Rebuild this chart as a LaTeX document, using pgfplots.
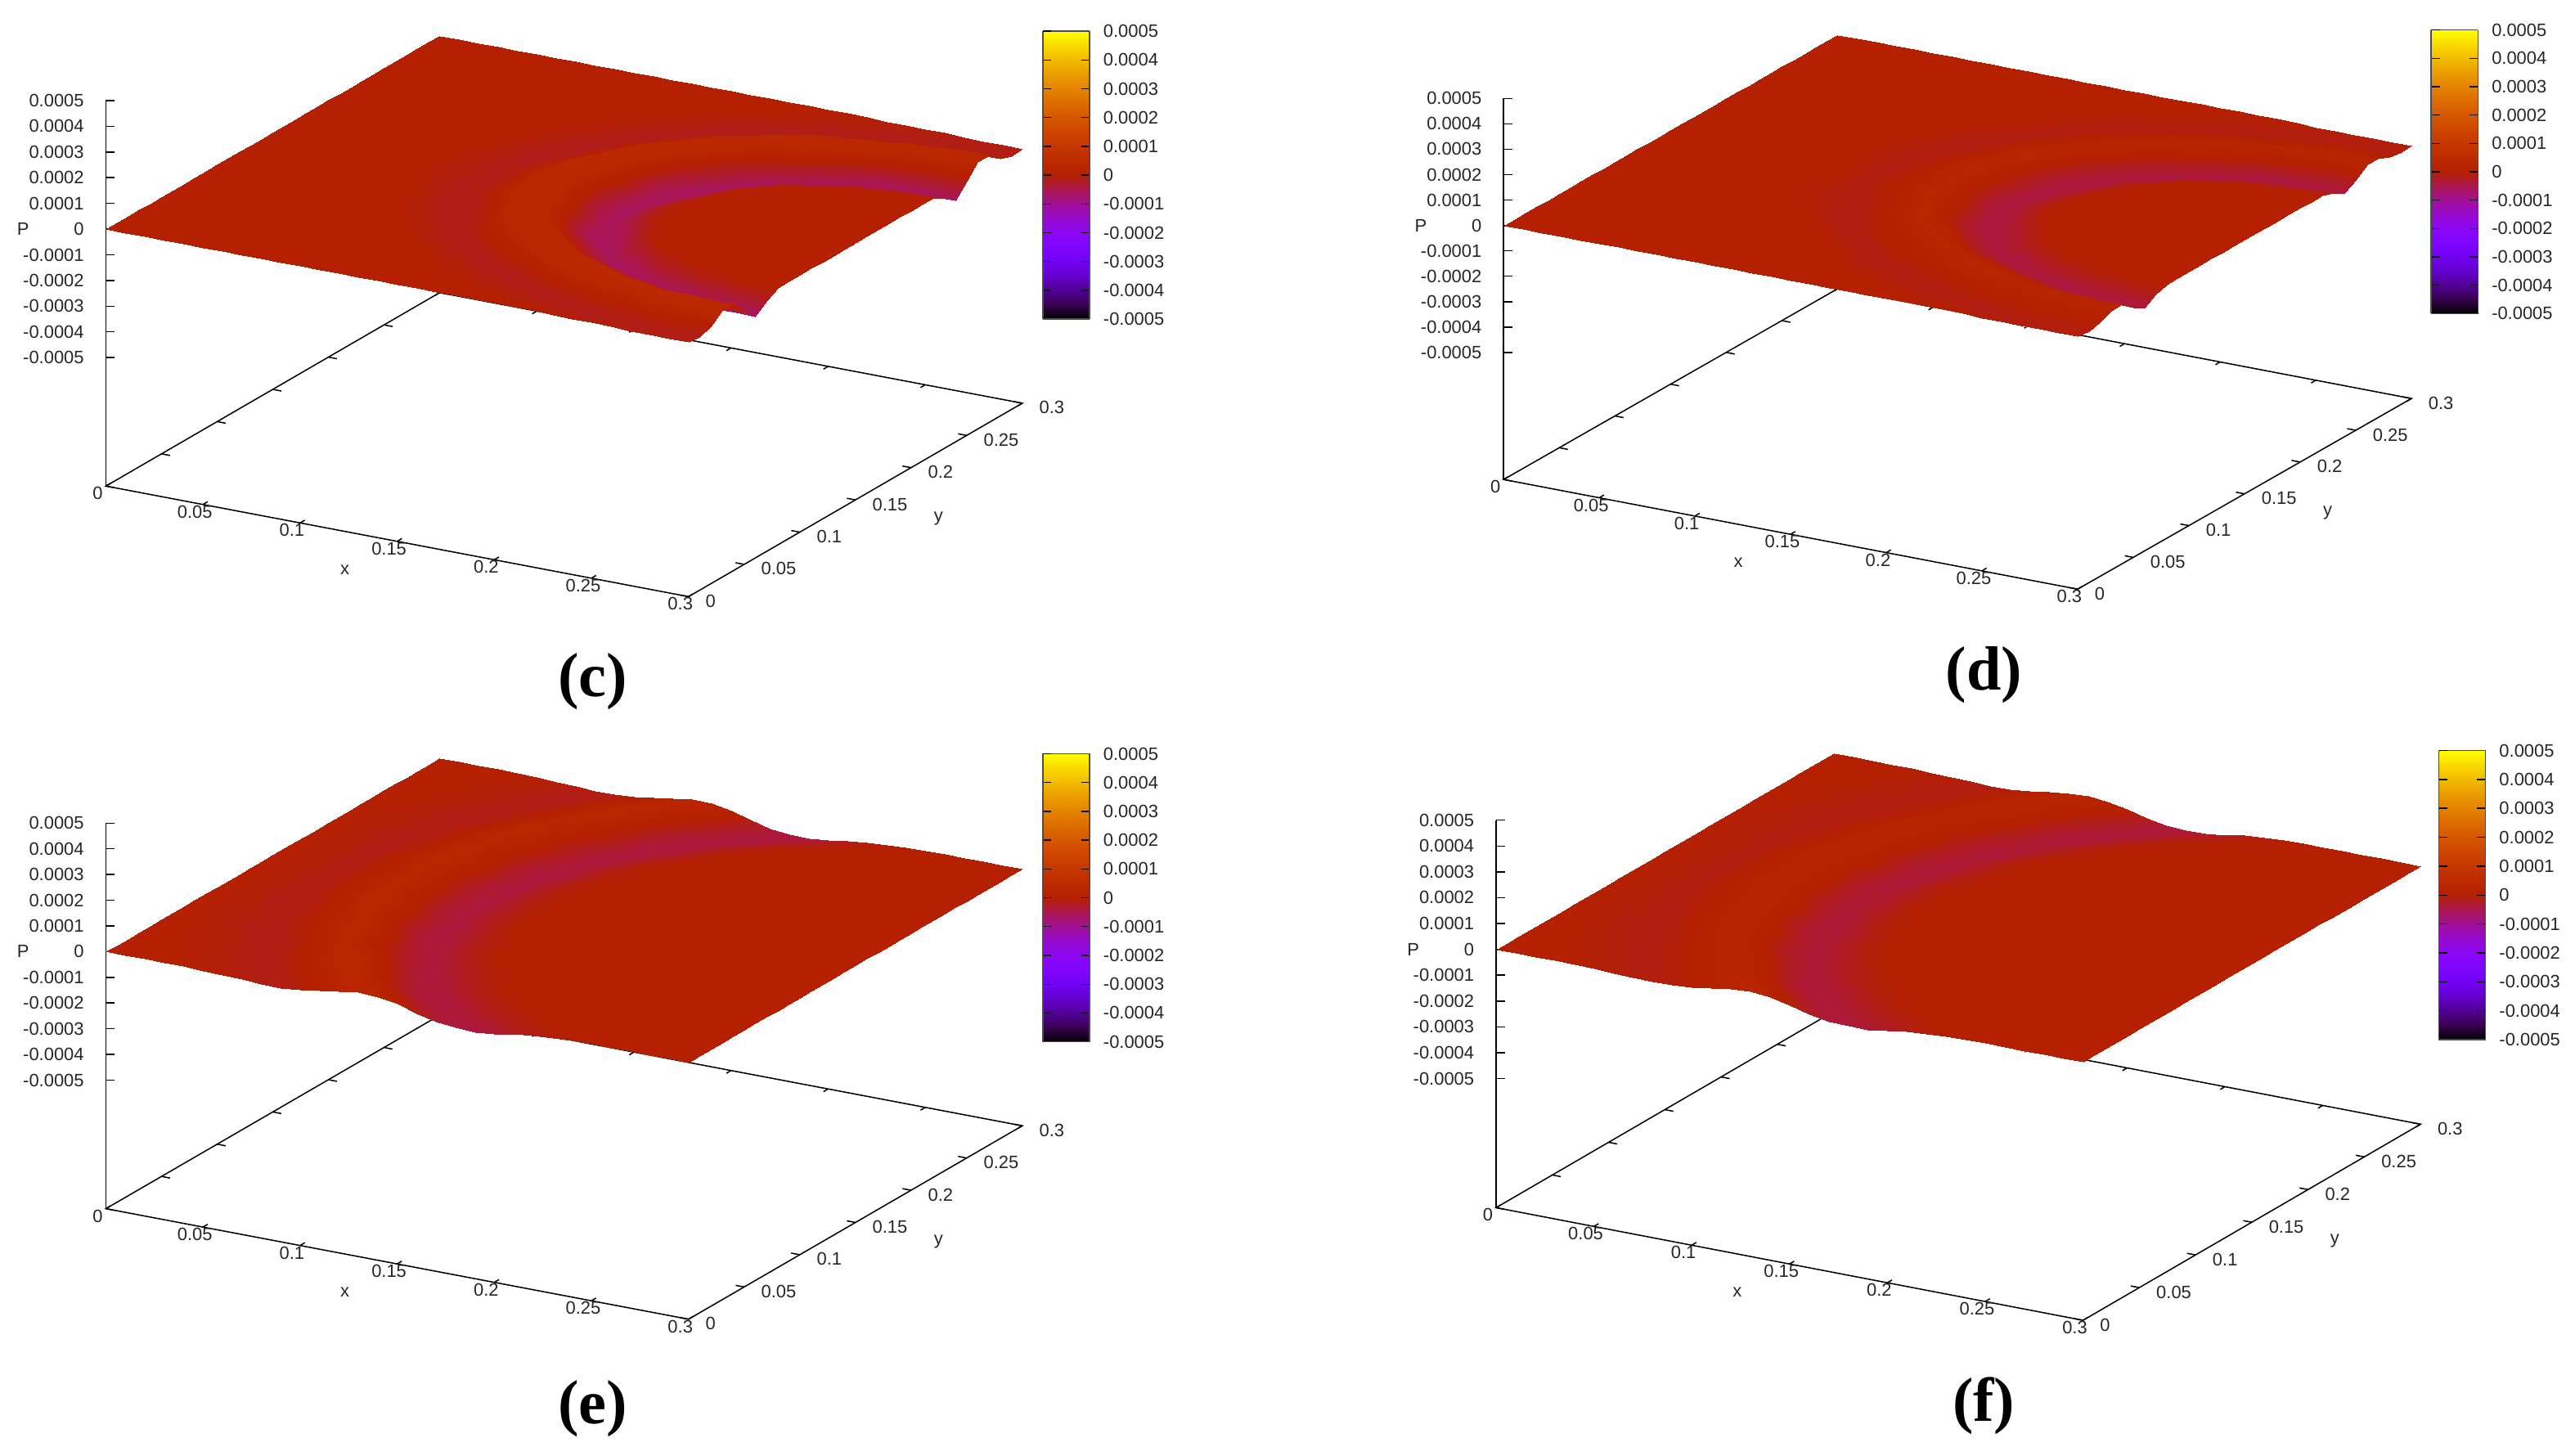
\documentclass[border=0pt]{standalone}
\usepackage{fontspec}
\setmainfont{Liberation Sans}
\newfontfamily\capfont{Liberation Serif}
\usepackage{pgfplots}
\usepackage{pgfplotstable}
\pgfplotsset{compat=1.18}

% P, in units of 1e-5, half of the plate (y<=0.15), the other half is its mirror
% columns c d e f are the four panels
\pgfplotstableread{
x y c d e f
0.00 0.00 0 0 0 0
0.01 0.00 0 0 0 0
0.02 0.00 0 0 0 0
0.03 0.00 0 0 0 0
0.04 0.00 0 0 0 0
0.05 0.00 0 0 -0.25 -0.25
0.06 0.00 0 0 -0.5 -0.5
0.07 0.00 0 0 -0.75 -0.75
0.08 0.00 0 0 -1.25 -1
0.09 0.00 0 0 -1.25 -0.75
0.10 0.00 0 0 -0.5 0
0.11 0.00 0 0 0.5 1
0.12 0.00 0 0 1.75 2
0.13 0.00 0 0 2.75 2.5
0.14 0.00 0 0 2.5 1.75
0.15 0.00 0 0 1.25 0.25
0.16 0.00 0 0 -1 -1.75
0.17 0.00 0 0 -3 -3.25
0.18 0.00 0 0 -3.75 -3.5
0.19 0.00 0 0 -4 -3.5
0.20 0.00 0 0 -3.25 -2.5
0.21 0.00 0 0 -2 -1.25
0.22 0.00 0 0 -1.25 -0.75
0.23 0.00 -0.5 0 -0.75 -0.25
0.24 0.00 -0.5 0 -0.25 0
0.25 0.00 -0.5 -0.5 0 0
0.26 0.00 -0.5 -0.5 0 0
0.27 0.00 -1 -0.5 0 0
0.28 0.00 -1 -0.5 0 0
0.29 0.00 -1 -0.5 0 0
0.30 0.00 -1 -0.5 0 0
0.00 0.01 0 0 0 0
0.01 0.01 0 0 0 0
0.02 0.01 0 0 0 0
0.03 0.01 0 0 0 0
0.04 0.01 0 0 -0.25 -0.25
0.05 0.01 0 0 -0.5 -0.5
0.06 0.01 0 0 -0.75 -0.75
0.07 0.01 0 0 -1.25 -1
0.08 0.01 0 0 -1.25 -0.75
0.09 0.01 0 0 -0.75 -0.25
0.10 0.01 0 0 0.25 0.75
0.11 0.01 0 0 1.75 2
0.12 0.01 0 0 2.75 2.5
0.13 0.01 0 0 2.5 1.75
0.14 0.01 0 0 1.25 0.25
0.15 0.01 0 0 -1 -1.75
0.16 0.01 0 0 -3 -3.25
0.17 0.01 0 0 -3.75 -3.5
0.18 0.01 0 0 -3.75 -3
0.19 0.01 0 0 -3 -2
0.20 0.01 -0.5 0 -2 -1.25
0.21 0.01 -0.5 -0.5 -1 -0.5
0.22 0.01 -0.5 -0.5 -0.25 0
0.23 0.01 -1 -0.5 0 0
0.24 0.01 -1.5 -1 0 0
0.25 0.01 -1.5 -1 0 0
0.26 0.01 -1.5 -1 0 0
0.27 0.01 -1.5 -1 0 0
0.28 0.01 -1.5 -1 0 0
0.29 0.01 -1.5 -1 0 0
0.30 0.01 -1.5 -1 0 0
0.00 0.02 0 0 0 0
0.01 0.02 0 0 0 0
0.02 0.02 0 0 0 0
0.03 0.02 0 0 -0.25 -0.25
0.04 0.02 0 0 -0.5 -0.5
0.05 0.02 0 0 -0.75 -0.75
0.06 0.02 0 0 -1.25 -1
0.07 0.02 0 0 -1.5 -1
0.08 0.02 0 0 -1 -0.5
0.09 0.02 0 0 0.25 0.75
0.10 0.02 0 0 1.5 1.75
0.11 0.02 0 0 2.5 2.25
0.12 0.02 0 0 2.5 1.75
0.13 0.02 0 0 1.25 0.25
0.14 0.02 0 0 -1 -1.75
0.15 0.02 0 0 -3 -3.25
0.16 0.02 0 0 -3.75 -3.5
0.17 0.02 0 0 -3.75 -3
0.18 0.02 -0.5 0 -2.5 -1.75
0.19 0.02 -0.5 -0.5 -1.25 -0.75
0.20 0.02 -1 -0.5 -0.75 -0.25
0.21 0.02 -1.5 -1 -0.25 0
0.22 0.02 -1.5 -1 0 0
0.23 0.02 -1.5 -1 0 0
0.24 0.02 -1.5 -1 0 0
0.25 0.02 -1 -0.5 0 0
0.26 0.02 -1 -0.5 0 0
0.27 0.02 0 0 0 0
0.28 0.02 0 0 0 0
0.29 0.02 0 0 0 0
0.30 0.02 0 0 0 0
0.00 0.03 0 0 0 0
0.01 0.03 0 0 0 0
0.02 0.03 0 0 0 0
0.03 0.03 0 0 -0.25 -0.25
0.04 0.03 0 0 -0.5 -0.5
0.05 0.03 0 0 -0.75 -0.75
0.06 0.03 0 0 -1.25 -1
0.07 0.03 0 0 -1.25 -0.75
0.08 0.03 0 0 -0.5 0
0.09 0.03 0 0 1 1.25
0.10 0.03 0 0 2.5 2.25
0.11 0.03 0 0 3 2.25
0.12 0.03 0 0 1.75 0.75
0.13 0.03 0 0 -1 -1.75
0.14 0.03 0 0 -3 -3.25
0.15 0.03 0 0 -3.75 -3.5
0.16 0.03 -0.5 0 -3.75 -3
0.17 0.03 -0.5 -0.5 -2.5 -1.75
0.18 0.03 -1 -0.5 -1.25 -0.75
0.19 0.03 -1.5 -1 -0.5 -0.25
0.20 0.03 -1.5 -1 0 0
0.21 0.03 -1.5 -1 0 0
0.22 0.03 -1 -0.5 0 0
0.23 0.03 0 0 0 0
0.24 0.03 1.5 0.5 0 0
0.25 0.03 1.5 0.5 0 0
0.26 0.03 3 1.5 0 0
0.27 0.03 3 1.5 0 0
0.28 0.03 4 2 0 0
0.29 0.03 4 2 0 0
0.30 0.03 4 2 0 0
0.00 0.04 0 0 0 0
0.01 0.04 0 0 0 0
0.02 0.04 0 0 -0.25 -0.25
0.03 0.04 0 0 -0.5 -0.5
0.04 0.04 0 0 -0.75 -0.75
0.05 0.04 0 0 -1.25 -1
0.06 0.04 0 0 -1.25 -0.75
0.07 0.04 0 0 -0.75 -0.25
0.08 0.04 0 0 0.25 0.75
0.09 0.04 0 0 1.75 2
0.10 0.04 0 0 2.75 2.25
0.11 0.04 0 0 2.5 1.5
0.12 0.04 0 0 0.5 -0.5
0.13 0.04 0 0 -2.25 -2.75
0.14 0.04 0 0 -3.75 -3.5
0.15 0.04 -0.5 0 -3.75 -3
0.16 0.04 -0.5 -0.5 -2.5 -1.75
0.17 0.04 -1.5 -1 -1.25 -0.75
0.18 0.04 -1.5 -1 -0.5 -0.25
0.19 0.04 -1.5 -1 0 0
0.20 0.04 -1 -0.5 0 0
0.21 0.04 1.5 0.5 0 0
0.22 0.04 3 1.5 0 0
0.23 0.04 3.5 2 0 0
0.24 0.04 4 2 0 0
0.25 0.04 4.5 2.5 0 0
0.26 0.04 4.5 2.5 0 0
0.27 0.04 4.5 2.5 0 0
0.28 0.04 4.5 2.5 0 0
0.29 0.04 4 2 0 0
0.30 0.04 4 2 0 0
0.00 0.05 0 0 0 0
0.01 0.05 0 0 0 0
0.02 0.05 0 0 -0.25 -0.25
0.03 0.05 0 0 -0.5 -0.5
0.04 0.05 0 0 -0.75 -0.75
0.05 0.05 0 0 -1.25 -1
0.06 0.05 0 0 -1.25 -0.75
0.07 0.05 0 0 -0.5 0
0.08 0.05 0 0 1 1.25
0.09 0.05 0 0 2.5 2.25
0.10 0.05 0 0 2.5 1.75
0.11 0.05 0 0 1.25 0.25
0.12 0.05 0 0 -1 -1.75
0.13 0.05 0 0 -3.25 -3.25
0.14 0.05 -0.5 0 -3.75 -3
0.15 0.05 -1 -0.5 -3 -2
0.16 0.05 -1.5 -1 -1.75 -1
0.17 0.05 -1.5 -1 -0.5 -0.25
0.18 0.05 -1 -0.5 0 0
0.19 0.05 0 0 0 0
0.20 0.05 3 1.5 0 0
0.21 0.05 4 2 0 0
0.22 0.05 4.5 2.5 0 0
0.23 0.05 4.5 2.5 0 0
0.24 0.05 3.5 1.5 0 0
0.25 0.05 2.5 1 0 0
0.26 0.05 1 0 0 0
0.27 0.05 -0.5 -1 0 0
0.28 0.05 -1 -1.5 0 0
0.29 0.05 -1 -1.5 0 0
0.30 0.05 -1 -1.5 0 0
0.00 0.06 0 0 0 0
0.01 0.06 0 0 0 0
0.02 0.06 0 0 -0.25 -0.25
0.03 0.06 0 0 -0.75 -0.75
0.04 0.06 0 0 -1.25 -1
0.05 0.06 0 0 -1.5 -1
0.06 0.06 0 0 -1 -0.5
0.07 0.06 0 0 0.25 0.75
0.08 0.06 0 0 1.75 2
0.09 0.06 0 0 2.75 2.25
0.10 0.06 0 0 1.75 0.75
0.11 0.06 0 0 -0.25 -1.25
0.12 0.06 0 0 -2.25 -2.75
0.13 0.06 -0.5 0 -3.75 -3.5
0.14 0.06 -1 -0.5 -3.25 -2.5
0.15 0.06 -1.5 -1 -2 -1.25
0.16 0.06 -1.5 -1 -1 -0.5
0.17 0.06 0 0 -0.25 0
0.18 0.06 1.5 0.5 0 0
0.19 0.06 3 1.5 0 0
0.20 0.06 4.5 2.5 0 0
0.21 0.06 4.5 2.5 0 0
0.22 0.06 3.5 1.5 0 0
0.23 0.06 1 0 0 0
0.24 0.06 -1 -1.5 0 0
0.25 0.06 -3.5 -3 0 0
0.26 0.06 -5.5 -4 0 0
0.27 0.06 -5.5 -4 0 0
0.28 0.06 -6 -4 0 0
0.29 0.06 -6 -4 0 0
0.30 0.06 -6 -4 0 0
0.00 0.07 0 0 0 0
0.01 0.07 0 0 -0.25 -0.25
0.02 0.07 0 0 -0.5 -0.5
0.03 0.07 0 0 -0.75 -0.75
0.04 0.07 0 0 -1.25 -1
0.05 0.07 0 0 -1.25 -0.75
0.06 0.07 0 0 -0.5 0
0.07 0.07 0 0 1 1.25
0.08 0.07 0 0 2.5 2.25
0.09 0.07 0 0 2.5 1.75
0.10 0.07 0 0 0.5 -0.5
0.11 0.07 0 0 -1.75 -2.5
0.12 0.07 -0.5 0 -3.25 -3.25
0.13 0.07 -1 -0.5 -3.75 -3
0.14 0.07 -1.5 -1 -2.5 -1.75
0.15 0.07 -1.5 -1 -1 -0.5
0.16 0.07 0 0 -0.25 0
0.17 0.07 1.5 0.5 0 0
0.18 0.07 4 2 0 0
0.19 0.07 4.5 2.5 0 0
0.20 0.07 3.5 1.5 0 0
0.21 0.07 1 0 0 0
0.22 0.07 -1 -1.5 0 0
0.23 0.07 -3.5 -3 0 0
0.24 0.07 -5.5 -4 0 0
0.25 0.07 -6 -4 0 0
0.26 0.07 -5.5 -3.5 0 0
0.27 0.07 -4 -2.5 0 0
0.28 0.07 -4 -2.5 0 0
0.29 0.07 -3 -2 0 0
0.30 0.07 -2.5 -1.5 0 0
0.00 0.08 0 0 0 0
0.01 0.08 0 0 -0.25 -0.25
0.02 0.08 0 0 -0.5 -0.5
0.03 0.08 0 0 -0.75 -0.75
0.04 0.08 0 0 -1.25 -1
0.05 0.08 0 0 -1 -0.5
0.06 0.08 0 0 0.25 0.75
0.07 0.08 0 0 1.75 2
0.08 0.08 0 0 2.75 2.25
0.09 0.08 0 0 2.5 1.5
0.10 0.08 0 0 0.5 -0.5
0.11 0.08 -0.5 0 -2.25 -2.75
0.12 0.08 -0.5 -0.5 -3.75 -3.5
0.13 0.08 -1.5 -1 -3.25 -2.5
0.14 0.08 -1.5 -1 -1.75 -1
0.15 0.08 0 0 -0.5 -0.25
0.16 0.08 1.5 0.5 0 0
0.17 0.08 4 2 0 0
0.18 0.08 4.5 2.5 0 0
0.19 0.08 3.5 1.5 0 0
0.20 0.08 -1 -1.5 0 0
0.21 0.08 -3.5 -3 0 0
0.22 0.08 -5.5 -4 0 0
0.23 0.08 -5.5 -3.5 0 0
0.24 0.08 -4 -2.5 0 0
0.25 0.08 -2.5 -1.5 0 0
0.26 0.08 -1 -0.5 0 0
0.27 0.08 -1 -0.5 0 0
0.28 0.08 0 0 0 0
0.29 0.08 0 0 0 0
0.30 0.08 0 0 0 0
0.00 0.09 0 0 0 0
0.01 0.09 0 0 -0.25 -0.25
0.02 0.09 0 0 -0.5 -0.5
0.03 0.09 0 0 -1 -1
0.04 0.09 0 0 -1.25 -1
0.05 0.09 0 0 -1 -0.5
0.06 0.09 0 0 0.25 0.75
0.07 0.09 0 0 1.75 2
0.08 0.09 0 0 2.75 2.25
0.09 0.09 0 0 1.75 0.75
0.10 0.09 0 0 -1 -1.75
0.11 0.09 -0.5 -0.5 -3.25 -3.25
0.12 0.09 -1.5 -1 -3.75 -3
0.13 0.09 -1.5 -1 -2.5 -1.75
0.14 0.09 -1 -0.5 -1 -0.5
0.15 0.09 1.5 0.5 -0.25 0
0.16 0.09 4 2 0 0
0.17 0.09 4.5 2.5 0 0
0.18 0.09 3.5 1.5 0 0
0.19 0.09 -1 -1.5 0 0
0.20 0.09 -3.5 -3 0 0
0.21 0.09 -6 -4 0 0
0.22 0.09 -5.5 -3.5 0 0
0.23 0.09 -2.5 -1.5 0 0
0.24 0.09 -1 -0.5 0 0
0.25 0.09 0 0 0 0
0.26 0.09 0 0 0 0
0.27 0.09 0 0 0 0
0.28 0.09 0 0 0 0
0.29 0.09 0 0 0 0
0.30 0.09 0 0 0 0
0.00 0.10 0 0 0 0
0.01 0.10 0 0 -0.25 -0.25
0.02 0.10 0 0 -0.5 -0.5
0.03 0.10 0 0 -1.25 -1
0.04 0.10 0 0 -1.25 -0.75
0.05 0.10 0 0 -0.5 0
0.06 0.10 0 0 1 1.25
0.07 0.10 0 0 2.5 2.25
0.08 0.10 0 0 2.5 1.75
0.09 0.10 0 0 0.5 -0.5
0.10 0.10 -0.5 0 -2.25 -2.75
0.11 0.10 -1 -0.5 -3.75 -3.5
0.12 0.10 -1.5 -1 -3.75 -3
0.13 0.10 -1.5 -1 -2.5 -1.75
0.14 0.10 0 0 -1 -0.5
0.15 0.10 3 1.5 -0.25 0
0.16 0.10 4.5 2.5 0 0
0.17 0.10 3.5 1.5 0 0
0.18 0.10 -1 -1.5 0 0
0.19 0.10 -3.5 -3 0 0
0.20 0.10 -6 -4 0 0
0.21 0.10 -4 -2.5 0 0
0.22 0.10 -2.5 -1.5 0 0
0.23 0.10 0 0 0 0
0.24 0.10 0 0 0 0
0.25 0.10 0 0 0 0
0.26 0.10 0 0 0 0
0.27 0.10 0 0 0 0
0.28 0.10 0 0 0 0
0.29 0.10 0 0 0 0
0.30 0.10 0 0 0 0
0.00 0.11 0 0 0 0
0.01 0.11 0 0 -0.25 -0.25
0.02 0.11 0 0 -0.5 -0.5
0.03 0.11 0 0 -1.25 -1
0.04 0.11 0 0 -1.25 -0.75
0.05 0.11 0 0 -0.5 0
0.06 0.11 0 0 1 1.25
0.07 0.11 0 0 2.5 2.25
0.08 0.11 0 0 2.5 1.75
0.09 0.11 0 0 0.5 -0.5
0.10 0.11 -0.5 -0.5 -2.25 -2.75
0.11 0.11 -1.5 -1 -3.75 -3.5
0.12 0.11 -1.5 -1 -3.25 -2.5
0.13 0.11 -1 -0.5 -1.75 -1
0.14 0.11 1.5 0.5 -0.5 -0.25
0.15 0.11 4 2 0 0
0.16 0.11 4.5 2.5 0 0
0.17 0.11 1 0 0 0
0.18 0.11 -3.5 -3 0 0
0.19 0.11 -6 -4 0 0
0.20 0.11 -5.5 -3.5 0 0
0.21 0.11 -2.5 -1.5 0 0
0.22 0.11 0 0 0 0
0.23 0.11 0 0 0 0
0.24 0.11 0 0 0 0
0.25 0.11 0 0 0 0
0.26 0.11 0 0 0 0
0.27 0.11 0 0 0 0
0.28 0.11 0 0 0 0
0.29 0.11 0 0 0 0
0.30 0.11 0 0 0 0
0.00 0.12 0 0 0 0
0.01 0.12 0 0 -0.25 -0.25
0.02 0.12 0 0 -0.5 -0.5
0.03 0.12 0 0 -1.25 -1
0.04 0.12 0 0 -1 -0.5
0.05 0.12 0 0 0.25 0.75
0.06 0.12 0 0 1.75 2
0.07 0.12 0 0 2.75 2.25
0.08 0.12 0 0 2.5 1.5
0.09 0.12 0 0 0.5 -0.5
0.10 0.12 -0.5 -0.5 -2.5 -2.75
0.11 0.12 -1.5 -1 -4 -3.5
0.12 0.12 -1.5 -1 -3 -2.25
0.13 0.12 0 0 -1.5 -0.75
0.14 0.12 3 1.5 -0.5 -0.25
0.15 0.12 4.5 2.5 0 0
0.16 0.12 3.5 1.5 0 0
0.17 0.12 -1 -1.5 0 0
0.18 0.12 -5.5 -4 0 0
0.19 0.12 -5.5 -3.5 0 0
0.20 0.12 -4 -2.5 0 0
0.21 0.12 -1 -0.5 0 0
0.22 0.12 0 0 0 0
0.23 0.12 0 0 0 0
0.24 0.12 0 0 0 0
0.25 0.12 0 0 0 0
0.26 0.12 0 0 0 0
0.27 0.12 0 0 0 0
0.28 0.12 0 0 0 0
0.29 0.12 0 0 0 0
0.30 0.12 0 0 0 0
0.00 0.13 0 0 0 0
0.01 0.13 0 0 -0.25 -0.25
0.02 0.13 0 0 -0.5 -0.5
0.03 0.13 0 0 -1.25 -1
0.04 0.13 0 0 -1 -0.5
0.05 0.13 0 0 0.25 0.75
0.06 0.13 0 0 1.75 2
0.07 0.13 0 0 2.75 2.25
0.08 0.13 0 0 1.75 0.75
0.09 0.13 -0.5 0 -1 -1.75
0.10 0.13 -1 -0.5 -3.25 -3.25
0.11 0.13 -1.5 -1 -3.75 -3
0.12 0.13 -1 -0.5 -2.5 -1.75
0.13 0.13 1.5 0.5 -1 -0.5
0.14 0.13 3.5 2 -0.25 0
0.15 0.13 4.5 2.5 0 0
0.16 0.13 2.5 1 0 0
0.17 0.13 -1 -1.5 0 0
0.18 0.13 -5.5 -4 0 0
0.19 0.13 -5.5 -3.5 0 0
0.20 0.13 -2.5 -1.5 0 0
0.21 0.13 0 0 0 0
0.22 0.13 0 0 0 0
0.23 0.13 0 0 0 0
0.24 0.13 0 0 0 0
0.25 0.13 0 0 0 0
0.26 0.13 0 0 0 0
0.27 0.13 0 0 0 0
0.28 0.13 0 0 0 0
0.29 0.13 0 0 0 0
0.30 0.13 0 0 0 0
0.00 0.14 0 0 0 0
0.01 0.14 0 0 -0.25 -0.25
0.02 0.14 0 0 -0.5 -0.5
0.03 0.14 0 0 -1.25 -1
0.04 0.14 0 0 -1 -0.5
0.05 0.14 0 0 0.25 0.75
0.06 0.14 0 0 1.75 2
0.07 0.14 0 0 2.75 2.25
0.08 0.14 0 0 1.75 0.75
0.09 0.14 -0.5 0 -1 -1.75
0.10 0.14 -1 -0.5 -3.25 -3.25
0.11 0.14 -1.5 -1 -3.75 -3
0.12 0.14 -1 -0.5 -2.5 -1.75
0.13 0.14 1.5 0.5 -1 -0.5
0.14 0.14 4 2 -0.25 0
0.15 0.14 4.5 2.5 0 0
0.16 0.14 1 0 0 0
0.17 0.14 -3.5 -3 0 0
0.18 0.14 -6 -4 0 0
0.19 0.14 -4 -2.5 0 0
0.20 0.14 -1 -0.5 0 0
0.21 0.14 0 0 0 0
0.22 0.14 0 0 0 0
0.23 0.14 0 0 0 0
0.24 0.14 0 0 0 0
0.25 0.14 0 0 0 0
0.26 0.14 0 0 0 0
0.27 0.14 0 0 0 0
0.28 0.14 0 0 0 0
0.29 0.14 0 0 0 0
0.30 0.14 0 0 0 0
0.00 0.15 0 0 0 0
0.01 0.15 0 0 -0.25 -0.25
0.02 0.15 0 0 -0.5 -0.5
0.03 0.15 0 0 -1.25 -1
0.04 0.15 0 0 -1 -0.5
0.05 0.15 0 0 0.25 0.75
0.06 0.15 0 0 1.75 2
0.07 0.15 0 0 2.75 2.25
0.08 0.15 0 0 1.75 0.75
0.09 0.15 -0.5 0 -1 -1.75
0.10 0.15 -1 -0.5 -3.25 -3.25
0.11 0.15 -1.5 -1 -3.75 -3
0.12 0.15 -1 -0.5 -2.5 -1.75
0.13 0.15 1.5 0.5 -1 -0.5
0.14 0.15 4 2 -0.25 0
0.15 0.15 4.5 2.5 0 0
0.16 0.15 1 0 0 0
0.17 0.15 -3.5 -3 0 0
0.18 0.15 -6 -4 0 0
0.19 0.15 -4 -2.5 0 0
0.20 0.15 -1 -0.5 0 0
0.21 0.15 0 0 0 0
0.22 0.15 0 0 0 0
0.23 0.15 0 0 0 0
0.24 0.15 0 0 0 0
0.25 0.15 0 0 0 0
0.26 0.15 0 0 0 0
0.27 0.15 0 0 0 0
0.28 0.15 0 0 0 0
0.29 0.15 0 0 0 0
0.30 0.15 0 0 0 0
}\wavedata

% gnuplot's default pm3d palette
\pgfplotsset{
  colormap={gp}{
    rgb255=(0,0,0) rgb255=(57,0,79) rgb255=(81,0,150) rgb255=(99,1,206) rgb255=(114,2,243)
    rgb255=(128,4,255) rgb255=(140,7,243) rgb255=(151,11,206) rgb255=(161,16,150) rgb255=(171,23,79)
    rgb255=(180,32,0) rgb255=(189,42,0) rgb255=(198,55,0) rgb255=(206,70,0) rgb255=(213,87,0)
    rgb255=(221,108,0) rgb255=(228,131,0) rgb255=(235,157,0) rgb255=(242,186,0) rgb255=(249,219,0)
    rgb255=(255,255,0)
  },
  panel/.style={
    hide axis, clip=false, anchor=origin,
    xmin=0, xmax=0.3, ymin=0, ymax=0.3, zmin=-100, zmax=50,
    colormap name=gp, point meta min=-50, point meta max=50,
  },
  wave/.style={surf, shader=interp, z buffer=sort, mesh/rows=16, mesh/cols=31},
}
\tikzset{
  lab/.style={font=\fontsize{5.46}{6}\selectfont, inner sep=0pt, text=black!85},
  frm/.style={black, line width=0.38pt},
}

\newcommand{\zt}[2]{%
  \draw[frm] (axis cs:0,0,#1) -- ++(2.65pt,0pt);
  \node[lab,anchor=east,xshift=-6.5pt] at (axis cs:0,0,#1) {#2};
}
\newcommand{\drawframe}{%
  \draw[frm] (axis cs:0,0,-100) -- (axis cs:0.3,0,-100) -- (axis cs:0.3,0.3,-100) -- (axis cs:0,0.3,-100) -- cycle;
  \draw[frm] (axis cs:0,0,-100) -- (axis cs:0,0,50);
  \pgfplotsinvokeforeach{0,0.05,0.1,0.15,0.2,0.25,0.3}{
    \draw[frm] (axis cs:##1,0,-100) -- ++(1.4pt,0.85pt);
    \node[lab,xshift=-2.5pt,yshift=-2.25pt] at (axis cs:##1,0,-100) {##1};
    \draw[frm] (axis cs:0.3,##1,-100) -- ++(-2.6pt,0.5pt);
    \node[lab,anchor=west,xshift=5pt,yshift=-1.35pt] at (axis cs:0.3,##1,-100) {##1};
    \draw[frm] (axis cs:0,##1,-100) -- ++(2.6pt,-0.5pt);
    \draw[frm] (axis cs:##1,0.3,-100) -- ++(-1.4pt,-0.85pt);
  }
  \zt{50}{0.0005}\zt{40}{0.0004}\zt{30}{0.0003}\zt{20}{0.0002}\zt{10}{0.0001}
  \zt{0}{0}\zt{-10}{-0.0001}\zt{-20}{-0.0002}\zt{-30}{-0.0003}\zt{-40}{-0.0004}\zt{-50}{-0.0005}
  \node[lab,xshift=-25.25pt] at (axis cs:0,0,0) {P};
  \node[lab,xshift=-15.95pt,yshift=-8.6pt] at (axis cs:0.15,0,-100) {x};
  \node[lab,xshift=25.3pt,yshift=-5.75pt] at (axis cs:0.3,0.15,-100) {y};
}
% #1 origin, #2 #3 #4 unit vectors, #5 column of the table
\newcommand{\surfpanel}[5]{%
  \begin{axis}[panel, at={#1}, x={#2}, y={#3}, z={#4}]
    \drawframe
    \addplot3[wave] table[x=x, y expr=0.3-\thisrow{y}, z=#5] {\wavedata};
    \addplot3[wave] table[x=x, y=y, z=#5] {\wavedata};
  \end{axis}
}
\newcommand{\cbar}[2]{%
  \begin{axis}[at={#1}, anchor=south west, scale only axis, width=14.25pt, height=#2,
      view={0}{90}, xmin=0, xmax=1, ymin=-50, ymax=50,
      colormap name=gp, point meta min=-50, point meta max=50,
      xtick=\empty, ytick={-50,-40,-30,-20,-10,0,10,20,30,40,50},
      yticklabels={-0.0005,-0.0004,-0.0003,-0.0002,-0.0001,0,0.0001,0.0002,0.0003,0.0004,0.0005},
      ytick pos=both, yticklabel pos=right, tick align=inside, major tick length=2.6pt,
      tick style={black, line width=0.35pt}, axis line style={black!70, line width=0.35pt},
      yticklabel style={font=\fontsize{5.46}{6}\selectfont, text=black!85, inner sep=0pt, xshift=4pt}]
    \addplot3[surf, shader=interp, mesh/rows=2, mesh/cols=2] coordinates {(0,-50,-50) (1,-50,-50) (0,50,50) (1,50,50)};
  \end{axis}
}

\begin{document}
\begin{tikzpicture}
\path[use as bounding box] (0,0) rectangle (784pt,443.3pt);
\surfpanel{(32.25pt,373.55pt)}{(591.3pt,-112.2pt)}{(338.7pt,196.3pt)}{(0pt,0.7825pt)}{c}
\cbar{(317.5pt,346.15pt)}{87.65pt}
\surfpanel{(457.8pt,374.65pt)}{(582.5pt,-111.3pt)}{(338.8pt,193.5pt)}{(0pt,0.7735pt)}{d}
\cbar{(740.2pt,347.8pt)}{86.35pt}
\surfpanel{(32.25pt,153.55pt)}{(591.3pt,-112.2pt)}{(338.7pt,196.3pt)}{(0pt,0.7825pt)}{e}
\cbar{(317.5pt,126.1pt)}{87.7pt}
\surfpanel{(455.5pt,154.25pt)}{(595.7pt,-114.3pt)}{(342.5pt,199pt)}{(0pt,0.7865pt)}{f}
\cbar{(742.5pt,126.75pt)}{88.05pt}
\node[font=\capfont\bfseries\fontsize{19}{22}\selectfont] at (180.5pt,235.8pt) {(c)};
\node[font=\capfont\bfseries\fontsize{19}{22}\selectfont] at (604pt,237.8pt) {(d)};
\node[font=\capfont\bfseries\fontsize{19}{22}\selectfont] at (180.5pt,14.3pt) {(e)};
\node[font=\capfont\bfseries\fontsize{19}{22}\selectfont] at (604pt,15.3pt) {(f)};
\end{tikzpicture}
\end{document}
